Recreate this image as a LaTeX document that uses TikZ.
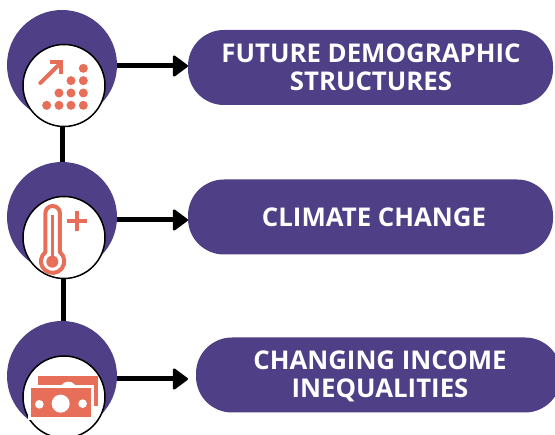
\documentclass[tikz,border=0pt]{standalone}
\usepackage{fontspec}
\setmainfont{Open Sans}
\usetikzlibrary{arrows.meta}
\definecolor{plum}{HTML}{4E3F86}
\definecolor{coral}{HTML}{E76F5A}
\tikzset{
  bigdisc/.style={circle,fill=plum,minimum size=110pt,inner sep=0,outer sep=0},
  lens/.style={circle,fill=white,draw=black,line width=1.5pt,minimum size=82pt,inner sep=0,outer sep=0},
  pill/.style={rectangle,rounded corners=36pt,fill=plum,minimum height=75pt,minimum width=365pt,inner sep=0,outer sep=0},
  pilltext/.style={text=white,inner sep=0,outer sep=0,align=center,font=\fontsize{25.8}{28}\selectfont\bfseries},
  link/.style={line width=5pt,draw=black},
  pointer/.style={line width=5pt,draw=black,-{Triangle[round,length=16pt,width=23pt,line width=2.5pt]}},
  icon/.style={x=0.3333pt,y=-0.3333pt},
}
\begin{document}
\begin{tikzpicture}[x=1pt,y=-1pt]
\useasboundingbox (0,0) rectangle (555,435);
\clip (0,0) rectangle (555,435);
% pills
\node[pill] (p1) at (370.5,67.5) {};
\node[pill] (p2) at (370.5,217) {};
\node[pill] (p3) at (378.5,375) {};
\node[pilltext] (t1) at (371,67) {FUTURE DEMOGRAPHIC\\STRUCTURES};
\node[pilltext] (t2) at (374,217) {CLIMATE CHANGE};
\node[pilltext] (t3) at (380,376.5) {CHANGING INCOME\\INEQUALITIES};
% discs
\node[bigdisc] (b1) at (62,65) {};
\node[bigdisc] (b2) at (62,217) {};
\node[bigdisc] (b3) at (62,376) {};
\node[lens] (l1) at (64,85.5) {};
\node[lens] (l2) at (64,237.5) {};
\node[lens] (l3) at (64,397) {};
% connectors
\draw[link] ([xshift=-1.5pt]l1.south) -- ([xshift=0.5pt]b2.north);
\draw[link] ([xshift=-0.7pt]l2.south) -- ([xshift=1.3pt]b3.north);
\draw[pointer] (b1.east |- 0,66) -- (p1.west |- 0,66);
\draw[pointer] (b2.east |- 0,220) -- (p2.west |- 0,220);
\draw[pointer] (b3.east |- 0,379) -- ([xshift=-8pt]p3.west |- 0,379);
% icon 1
\begin{scope}[icon]
\foreach \a/\b in {250/205,213/242,250/242,177/279,213/279,250/279,140/316,177/316,213/316,250/316}
  \fill[coral] (\a,\b) circle (13.5);
\draw[coral,line width=4pt,line cap=round] (121,249) -- (182,189);
\draw[coral,line width=4pt,line join=miter] (149,187) -- (184,187) -- (184,222);
\end{scope}
% icon 2
\begin{scope}[shift={(0,150)},icon]
\draw[coral,line width=4pt,line join=round] (136,190) arc (180:360:22) -- (180,306.6) arc (-51:231:35) -- cycle;
\fill[coral] (152,195) rectangle (163,320);
\fill[coral] (157,335) circle (18);
\draw[coral,line width=4.2pt] (200,212) -- (262,212) (231,182) -- (231,244);
\end{scope}
% icon 3
\begin{scope}[shift={(0,300)},icon]
\fill[coral] (115,228) rectangle (295,318);
\fill[white] (205,270) circle (25);
\fill[white] (84,256) rectangle (282,361);
\fill[coral] (93,265) rectangle (273,352);
\fill[white] (182,311) circle (27) (118,313) circle (13) (248,311) circle (13);
\end{scope}
\end{tikzpicture}
\end{document}
